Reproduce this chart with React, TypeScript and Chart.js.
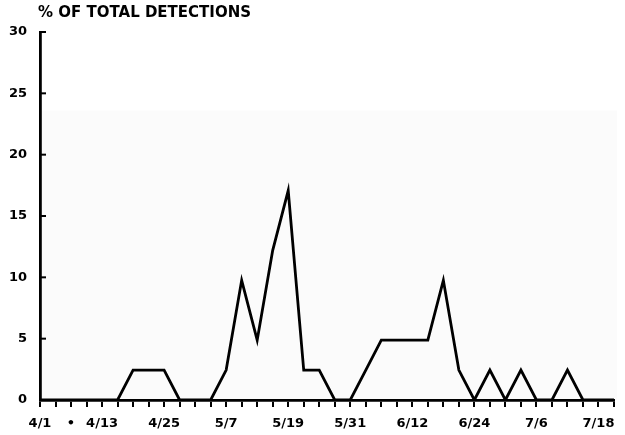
import React, { useEffect, useRef } from "react";
import { Chart, registerables } from "chart.js";

Chart.register(...registerables);

// Sampling dates (every 3 days)
const categories = [
  "4/1", "4/4", "4/7", "4/10", "4/13", "4/16", "4/19", "4/22", "4/25", "4/28",
  "5/1", "5/4", "5/7", "5/10", "5/13", "5/16", "5/19", "5/22", "5/25", "5/28",
  "5/31", "6/3", "6/6", "6/9", "6/12", "6/15", "6/18", "6/21", "6/24", "6/27",
  "6/30", "7/3", "7/6", "7/9", "7/12", "7/15", "7/18", "7/21",
];

// % of total detections
const detections = [
  0, 0, 0, 0, 0, 0, 2.44, 2.44, 2.44, 0,
  0, 0, 2.44, 9.76, 4.88, 12.2, 17.07, 2.44, 2.44, 0,
  0, 2.44, 4.88, 4.88, 4.88, 4.88, 9.76, 2.44, 0, 2.44,
  0, 2.44, 0, 0, 2.44, 0, 0, 0,
];

// Labelled x ticks
const xTickLabels = ["4/1", "4/13", "4/25", "5/7", "5/19", "5/31", "6/12", "6/24", "7/6", "7/18"];
const markerLabel = { index: 2, text: "•" };

// y ticks
const yTicks = [0, 5, 10, 15, 20, 25, 30];
const titleText = "% OF TOTAL DETECTIONS";
const shadeFromValue = 23.6;

const FONT = "'DejaVu Sans', sans-serif";

export default function App() {
  const ref = useRef<HTMLCanvasElement | null>(null);

  useEffect(() => {
    if (!ref.current) return;

    const decor = {
      id: "decor",
      beforeDraw(chart: any) {
        const { ctx, chartArea } = chart;
        const ys = chart.scales.y;
        ctx.save();
        ctx.fillStyle = "#ffffff";
        ctx.fillRect(0, 0, chart.width, chart.height);
        const yTop = ys.getPixelForValue(shadeFromValue);
        ctx.fillStyle = "#fbfbfb";
        ctx.fillRect(chartArea.left + 2, yTop, chartArea.right + 3 - chartArea.left - 2, chartArea.bottom - yTop);
        ctx.restore();
      },
      afterDraw(chart: any) {
        const { ctx, chartArea } = chart;
        const ys = chart.scales.y;
        ctx.save();
        ctx.strokeStyle = "#000";
        ctx.lineWidth = 2;
        for (const v of yTicks) {
          if (v === 0) continue;
          const y = ys.getPixelForValue(v);
          ctx.beginPath();
          ctx.moveTo(chartArea.left, y);
          ctx.lineTo(chartArea.left + 6, y);
          ctx.stroke();
        }
        ctx.fillStyle = "#000";
        ctx.font = `bold 15px ${FONT}`;
        ctx.textBaseline = "middle";
        ctx.textAlign = "left";
        ctx.fillText(titleText, chartArea.left - 2, 13);
        ctx.restore();
      },
    };

    const chart = new Chart(ref.current, {
      type: "line",
      data: {
        labels: categories,
        datasets: [
          {
            data: detections,
            borderColor: "#000",
            borderWidth: 2.8,
            pointRadius: 0,
            tension: 0,
            fill: false,
          },
        ],
      },
      options: {
        animation: false,
        responsive: false,
        layout: { padding: { left: 0, right: 11, top: 32, bottom: 0 } },
        plugins: {
          legend: { display: false },
          tooltip: { enabled: false },
          title: { display: false },
        },
        scales: {
          x: {
            type: "category",
            offset: false,
            grid: {
              display: true,
              drawOnChartArea: false,
              drawTicks: true,
              tickLength: 7,
              color: "#000",
              lineWidth: 2,
            },
            border: { display: true, color: "#000", width: 2.8 },
            ticks: {
              autoSkip: false,
              maxRotation: 0,
              minRotation: 0,
              padding: 9,
              color: "#000",
              font: { family: FONT, weight: "bold", size: 13 },
              callback: (_v: any, i: number) => {
                const c = categories[i];
                if (xTickLabels.includes(c)) return c;
                if (i === markerLabel.index) return markerLabel.text;
                return "";
              },
            },
            afterFit: (s: any) => {
              s.height = 35;
            },
          },
          y: {
            min: 0,
            max: 30,
            afterBuildTicks: (s: any) => {
              s.ticks = yTicks.map((v) => ({ value: v }));
            },
            grid: { display: true, drawOnChartArea: false, drawTicks: false },
            border: { display: true, color: "#000", width: 2.8 },
            ticks: {
              padding: 13,
              color: "#000",
              font: { family: FONT, weight: "bold", size: 13 },
            },
            afterFit: (s: any) => {
              s.width = 40;
            },
          },
        },
      },
      plugins: [decor],
    });

    return () => chart.destroy();
  }, []);

  return (
    <div style={{ position: "fixed", left: 0, top: 0, width: 625, height: 435, background: "#fff" }}>
      <canvas ref={ref} width={625} height={435} style={{ width: 625, height: 435, display: "block" }} />
    </div>
  );
}
